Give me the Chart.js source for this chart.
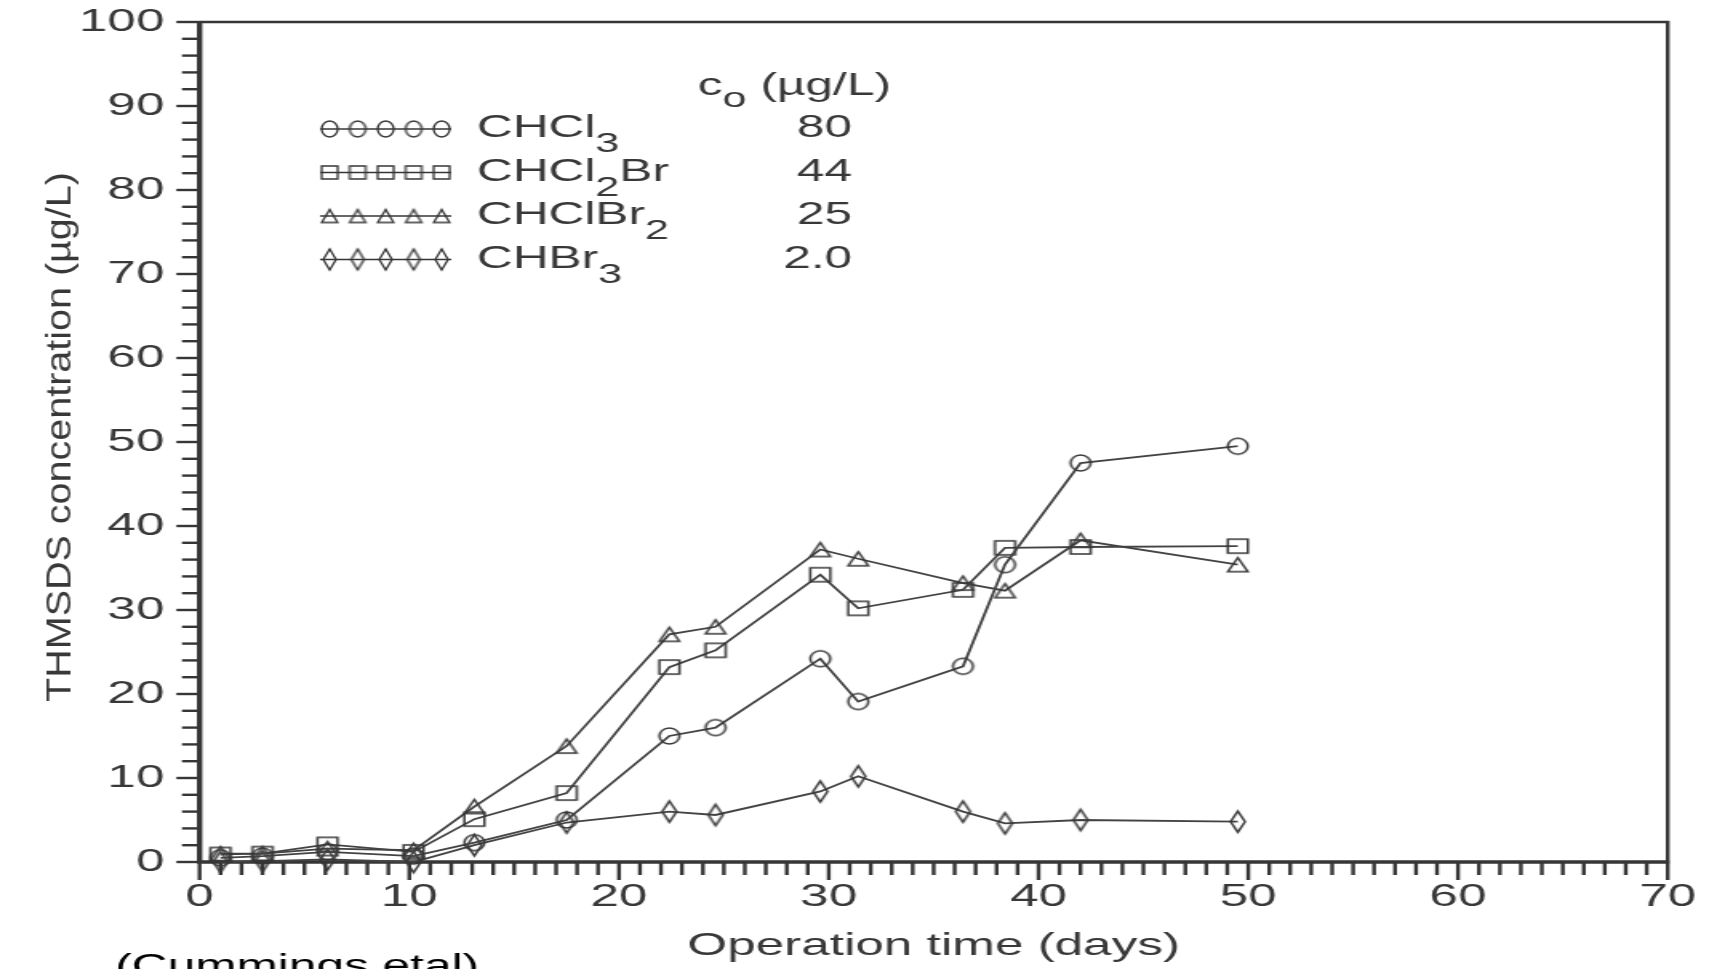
<!DOCTYPE html>
<html>
<head>
<meta charset="utf-8">
<title>THMSDS concentration vs operation time</title>
<script src="https://cdn.jsdelivr.net/npm/chart.js@4/dist/chart.umd.min.js"></script>
<style>
  html, body { margin: 0; padding: 0; background: #fff; overflow: hidden; }
</style>
</head>
<body>
<!-- drawn narrow, widened by CSS so the lettering gets the wide look of the print -->
<canvas id="thmChart" width="1068" height="969" style="width:1709px;height:969px;"></canvas>
<script>
// operation time (days) of each sampling
const days = [1, 3, 6.1, 10.2, 13.1, 17.5, 22.4, 24.6, 29.6, 31.4, 36.4, 38.4, 42, 49.5];

// THMSDS concentration (ug/L) per compound
const chcl3   = [0.5, 0.7, 1.2, 0.7, 2.3, 5.0, 15.0, 16.0, 24.2, 19.1, 23.3, 35.4, 47.5, 49.5];
const chcl2br = [0.9, 1.0, 2.1, 1.2, 5.1, 8.2, 23.2, 25.2, 34.2, 30.2, 32.4, 37.4, 37.5, 37.6];
const chclbr2 = [1.0, 1.0, 1.6, 1.4, 6.6, 13.8, 27.1, 28.0, 37.2, 36.1, 33.2, 32.3, 38.3, 35.4];
const chbr3   = [0, 0.1, 0.3, 0, 2.0, 4.7, 6.0, 5.6, 8.4, 10.2, 6.0, 4.6, 5.0, 4.8];

// legend: formulas ("_" marks a subscript) and influent c0
const formulas = ['CHCl_3', 'CHCl_2Br', 'CHClBr_2', 'CHBr_3'];
const c0Values = ['80', '44', '25', '2.0'];
const c0Header = 'c_o (\u00b5g/L)';

// axes
const xRange = [0, 70];
const yRange = [0, 100];
const majorStep = 10;
const xTitle = 'Operation time (days)';
const yTitle = 'THMSDS concentration (\u00b5g/L)';
const citation = '(Cummings etal)';

const INK = '#363636';
const TEXT = '#383838';
const FONT = '"Liberation Sans", Arial, sans-serif';

// hollow markers as small canvases (w x h in canvas units)
function makeMarker(kind, w, h, lw) {
    const pad = Math.ceil(lw) + 1;
    const c = document.createElement('canvas');
    c.width = Math.ceil(w) + pad * 2;
    c.height = Math.ceil(h) + pad * 2;
    const g = c.getContext('2d');
    const cx = c.width / 2, cy = c.height / 2;
    g.strokeStyle = INK;
    g.lineWidth = lw;
    g.beginPath();
    if (kind === 'circle') {
        g.ellipse(cx, cy, w / 2, h / 2, 0, 0, Math.PI * 2);
    } else if (kind === 'square') {
        g.rect(cx - w / 2, cy - h / 2, w, h);
    } else if (kind === 'triangle') {
        g.moveTo(cx, cy - h / 2);
        g.lineTo(cx + w / 2, cy + h / 2);
        g.lineTo(cx - w / 2, cy + h / 2);
        g.closePath();
    } else {
        g.moveTo(cx, cy - h / 2);
        g.lineTo(cx + w / 2, cy);
        g.lineTo(cx, cy + h / 2);
        g.lineTo(cx - w / 2, cy);
        g.closePath();
    }
    g.stroke();
    return c;
}

const plotMarkers = [
    makeMarker('circle', 12.5, 16, 1.5),
    makeMarker('square', 12.5, 14, 1.5),
    makeMarker('triangle', 12.5, 14, 1.5),
    makeMarker('diamond', 9, 21, 1.5)
];
const legendMarkers = [
    makeMarker('circle', 10, 16, 1.3),
    makeMarker('square', 10, 13, 1.3),
    makeMarker('triangle', 10, 13, 1.3),
    makeMarker('diamond', 8, 21, 1.3)
];

const seriesValues = [chcl3, chcl2br, chclbr2, chbr3];

// text with "_x" subscripts, left aligned at x
function drawFormula(ctx, text, x, baseline, size, subSize, subDrop) {
    const parts = text.split(/_(.)/);
    let cx = x;
    parts.forEach((part, i) => {
        const sub = i % 2 === 1;
        ctx.font = (sub ? subSize : size) + 'px ' + FONT;
        ctx.fillText(part, cx, baseline + (sub ? subDrop : 0));
        cx += ctx.measureText(part).width;
    });
}

const frameAndTicks = {
    id: 'frameAndTicks',
    beforeDatasetsDraw(chart) {
        const { ctx, chartArea: a, scales: { x, y } } = chart;
        ctx.save();
        ctx.strokeStyle = INK;
        ctx.lineCap = 'butt';

        // y ticks every 2, long ones at the labels
        ctx.lineWidth = 2.4;
        for (let v = yRange[0]; v <= yRange[1]; v += 2) {
            const py = y.getPixelForValue(v);
            const len = v % majorStep === 0 ? 14.5 : 11;
            ctx.beginPath();
            ctx.moveTo(a.left - len, py);
            ctx.lineTo(a.left, py);
            ctx.stroke();
        }

        // x ticks every day
        ctx.lineWidth = 2.4;
        for (let d = xRange[0]; d <= xRange[1]; d++) {
            const px = x.getPixelForValue(d);
            const len = d % majorStep === 0 ? 18 : 13;
            ctx.beginPath();
            ctx.moveTo(px, a.bottom);
            ctx.lineTo(px, a.bottom + len);
            ctx.stroke();
        }

        // top and right frame
        ctx.lineWidth = 2.4;
        ctx.beginPath();
        ctx.moveTo(a.left, a.top);
        ctx.lineTo(a.right, a.top);
        ctx.lineTo(a.right, a.bottom);
        ctx.stroke();

        // axes
        ctx.lineWidth = 3.4;
        ctx.beginPath();
        ctx.moveTo(a.left, a.top - 1);
        ctx.lineTo(a.left, a.bottom);
        ctx.lineTo(a.right + 1, a.bottom);
        ctx.stroke();
        ctx.restore();
    },
    afterDraw(chart) {
        const { ctx, chartArea: a } = chart;
        ctx.save();
        ctx.fillStyle = TEXT;
        ctx.textBaseline = 'alphabetic';

        // legend block
        ctx.textAlign = 'left';
        drawFormula(ctx, c0Header, 436, 95, 31, 27, 12);
        const rowBase = [137, 180.5, 224, 267.5];
        const markerX = [206, 223.5, 241, 258.5, 276];
        formulas.forEach((f, i) => {
            const b = rowBase[i];
            const my = b - 8;
            ctx.strokeStyle = INK;
            ctx.lineWidth = 1.6;
            ctx.beginPath();
            ctx.moveTo(200, my);
            ctx.lineTo(282, my);
            ctx.stroke();
            const m = legendMarkers[i];
            markerX.forEach(mx => ctx.drawImage(m, mx - m.width / 2, my - m.height / 2));
            ctx.textAlign = 'left';
            drawFormula(ctx, f, 298, b, 31, 27, 15);
            ctx.textAlign = 'right';
            ctx.font = '31px ' + FONT;
            ctx.fillText(c0Values[i], 532.5, b);
        });

        // vertical axis title, condensed across the line of text
        ctx.save();
        ctx.translate(43.75, (a.top + a.bottom) / 2 - 5);
        ctx.rotate(-Math.PI / 2);
        ctx.scale(1, 0.58);
        ctx.font = '39.5px ' + FONT;
        ctx.textAlign = 'center';
        ctx.fillText(yTitle, 0, 0);
        ctx.restore();

        // source note, cut by the lower edge
        ctx.fillStyle = '#000';
        ctx.textAlign = 'left';
        ctx.font = '31px ' + FONT;
        ctx.fillText(citation, 72, 976);
        ctx.restore();
    }
};

const datasets = seriesValues.map((vals, i) => ({
    label: formulas[i].replace('_', ''),
    data: days.map((d, k) => ({ x: d, y: vals[k] })),
    borderColor: '#434343',
    borderWidth: 1.8,
    pointStyle: plotMarkers[i],
    pointRadius: 8,
    tension: 0,
    clip: false
}));

const tickFont = { family: FONT, size: 32 };

new Chart(document.getElementById('thmChart'), {
    type: 'line',
    data: { datasets },
    options: {
        responsive: false,
        animation: false,
        devicePixelRatio: 1,
        layout: { padding: { top: 22, right: 25.8, left: 0, bottom: 0 } },
        plugins: {
            legend: { display: false },
            tooltip: { enabled: false }
        },
        scales: {
            x: {
                type: 'linear',
                min: xRange[0],
                max: xRange[1],
                grid: { display: false, drawTicks: false },
                border: { display: false },
                ticks: {
                    stepSize: majorStep,
                    color: TEXT,
                    font: tickFont,
                    padding: 16,
                    maxRotation: 0,
                    autoSkip: false
                },
                title: {
                    display: true,
                    text: xTitle,
                    color: TEXT,
                    font: { family: FONT, size: 32 },
                    padding: { top: 0, bottom: 4 }
                },
                afterFit(scale) {
                    scale.height = 107;
                    scale.paddingLeft = 0;
                    scale.paddingRight = 0;
                }
            },
            y: {
                min: yRange[0],
                max: yRange[1],
                grid: { display: false, drawTicks: false },
                border: { display: false },
                ticks: {
                    stepSize: majorStep,
                    color: TEXT,
                    font: tickFont,
                    padding: 22
                },
                afterFit(scale) {
                    scale.width = 124.7;
                    scale.paddingTop = 0;
                    scale.paddingBottom = 0;
                }
            }
        }
    },
    plugins: [frameAndTicks]
});
</script>
</body>
</html>
